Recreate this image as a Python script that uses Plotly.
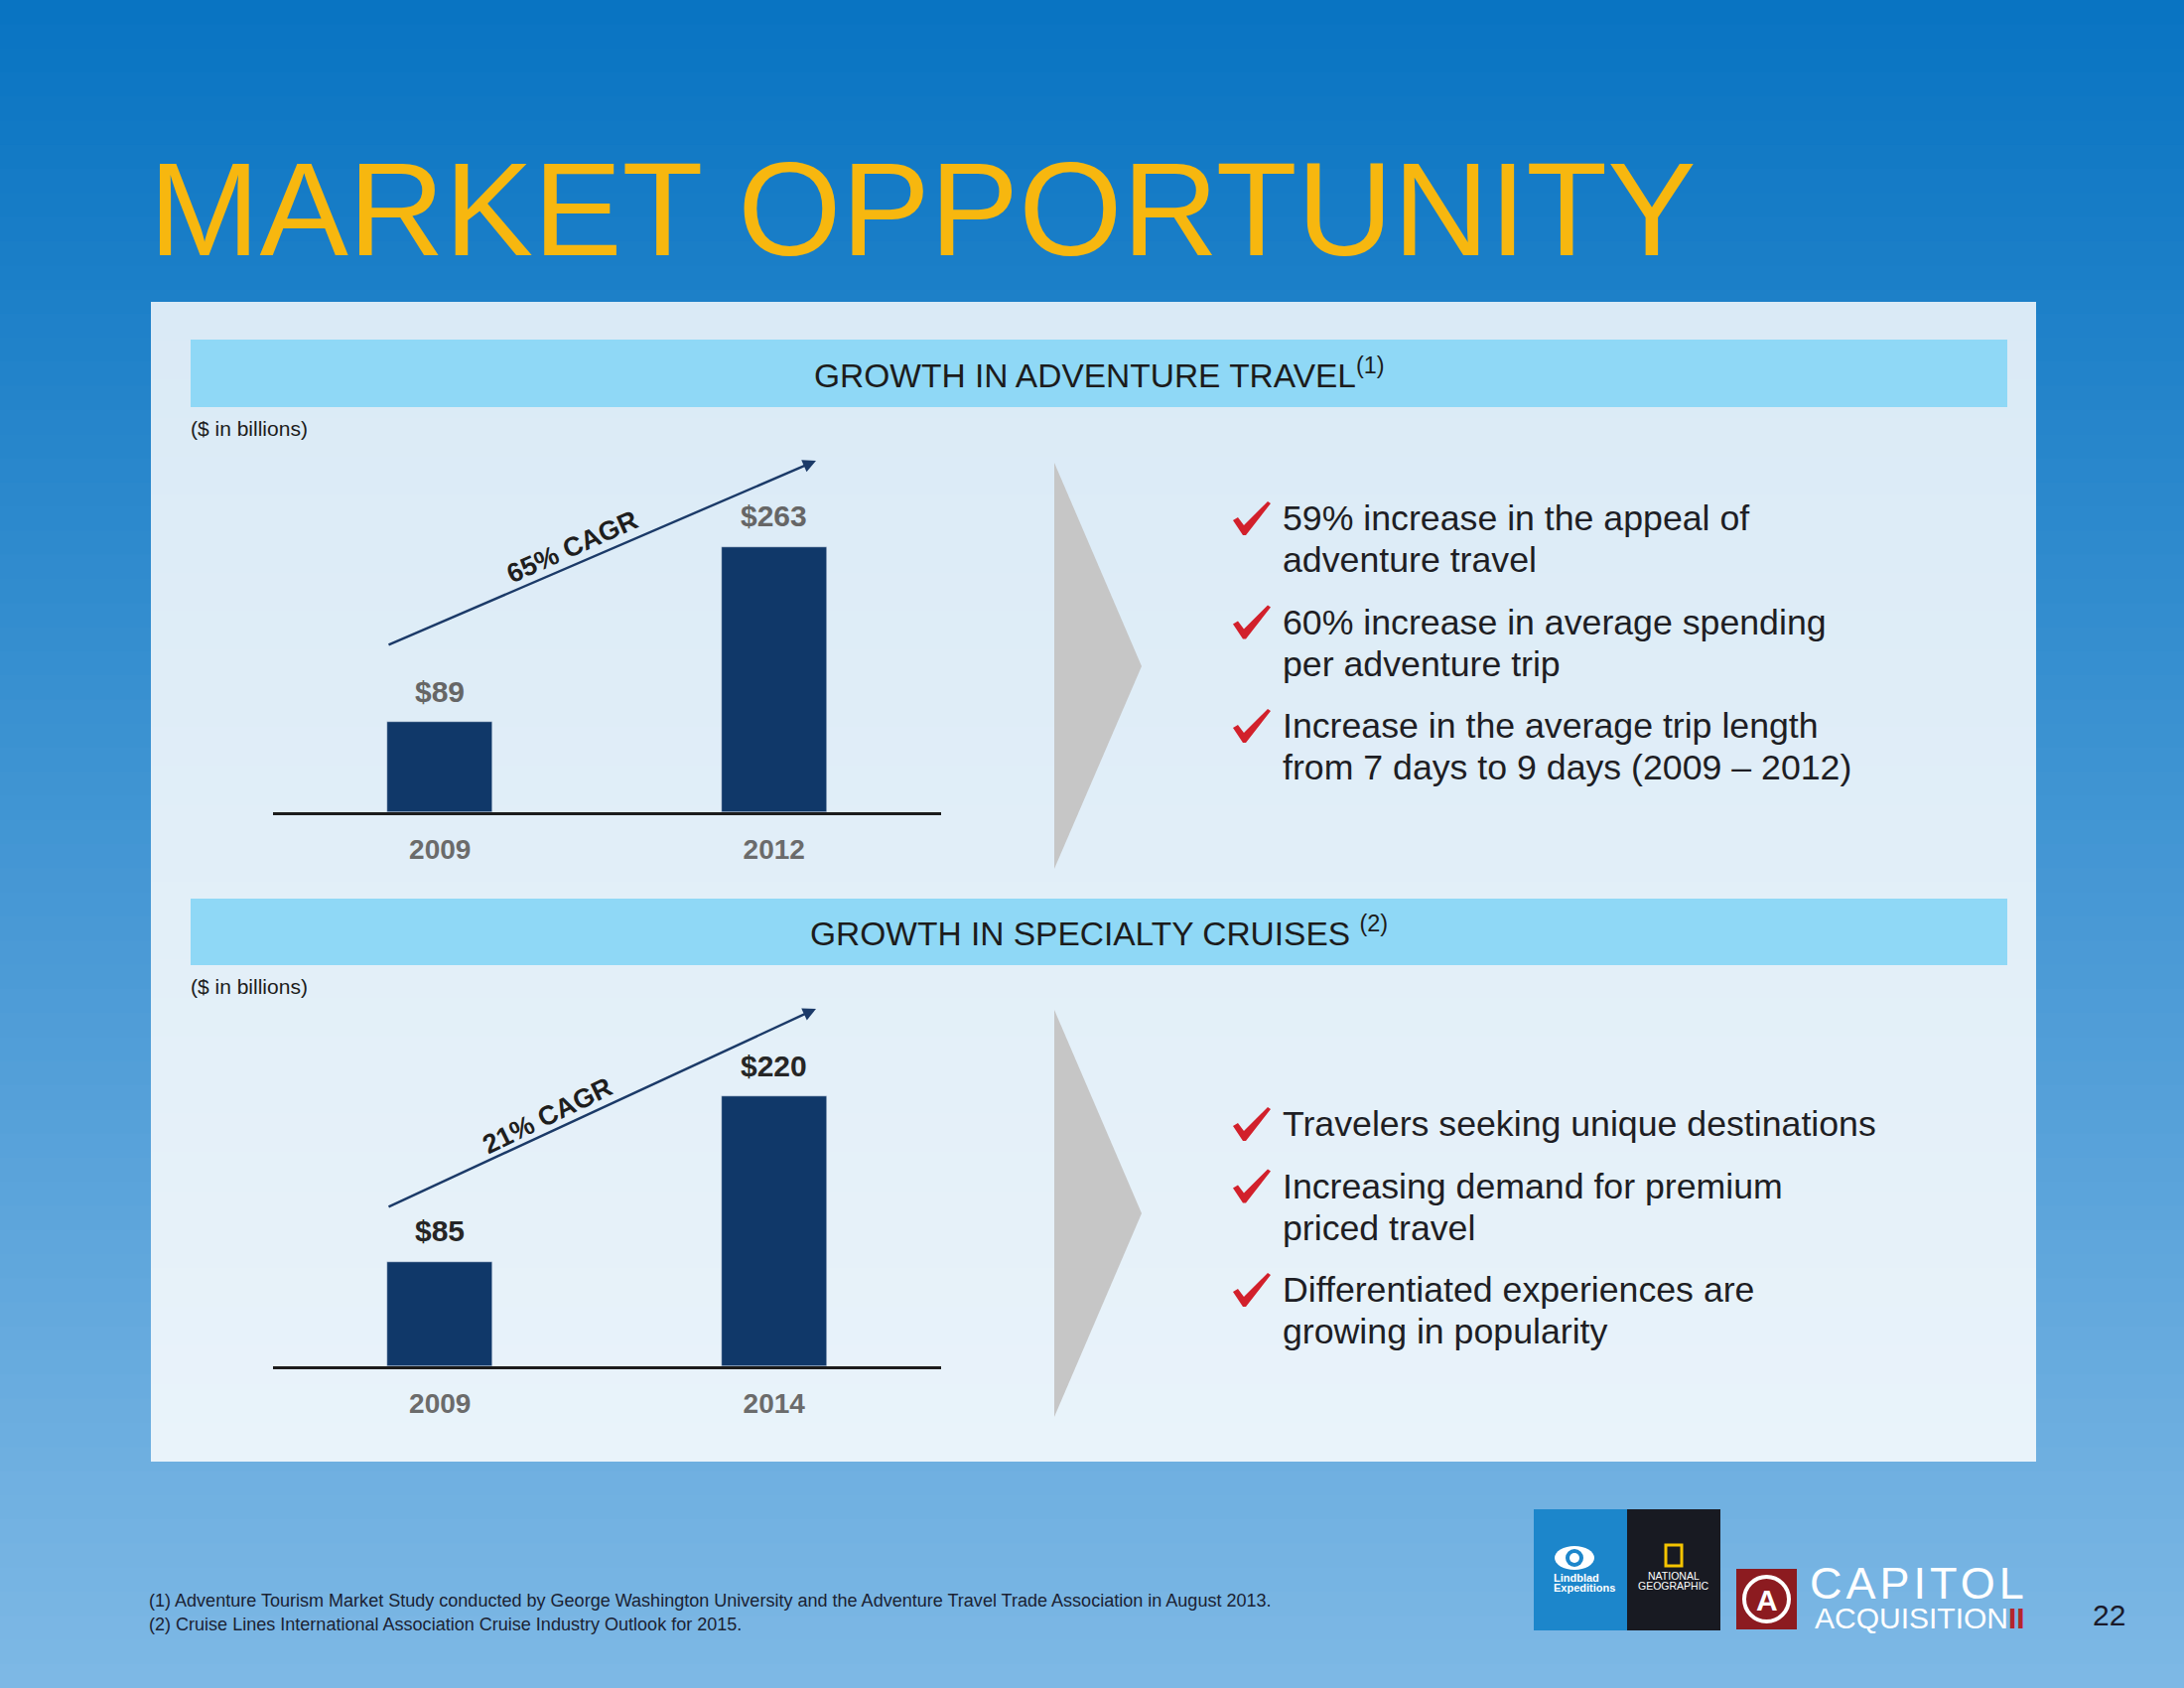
import plotly.graph_objects as go

# ---------------- data ----------------
title_text = "MARKET OPPORTUNITY"
unit_label = "($ in billions)"

adv_title = "GROWTH IN ADVENTURE TRAVEL<sup>(1)</sup>"
adv_years = ["2009", "2012"]
adv_values = [89, 263]
adv_cagr = "65% CAGR"
adv_bullets = [
    ["59% increase in the appeal of", "adventure travel"],
    ["60% increase in average spending", "per adventure trip"],
    ["Increase in the average trip length", "from 7 days to 9 days (2009 \u2013 2012)"],
]

cru_title = "GROWTH IN SPECIALTY CRUISES <sup>(2)</sup>"
cru_years = ["2009", "2014"]
cru_values = [85, 220]
cru_cagr = "21% CAGR"
cru_bullets = [
    ["Travelers seeking unique destinations"],
    ["Increasing demand for premium", "priced travel"],
    ["Differentiated experiences are", "growing in popularity"],
]

footnotes = [
    "(1) Adventure Tourism Market Study conducted by George Washington University and the Adventure Travel Trade Association in August 2013.",
    "(2) Cruise Lines International Association Cruise Industry Outlook for 2015.",
]
page_number = "22"

# ---------------- helpers ----------------
W, H = 2200, 1700


def px(x):
    return x / W


def py(y):
    return 1 - y / H


shapes = []
annotations = []


def rect(x0, y0, x1, y1, fill, layer="below"):
    shapes.append(dict(type="rect", xref="paper", yref="paper",
                       x0=px(x0), x1=px(x1), y0=py(y1), y1=py(y0),
                       fillcolor=fill, layer=layer, line=dict(width=0)))


def lerp(c0, c1, t):
    return "rgb(%d,%d,%d)" % tuple(round(a + (b - a) * t) for a, b in zip(c0, c1))


def vgrad(x0, y0, x1, y1, c0, c1, n):
    h = (y1 - y0) / n
    for i in range(n):
        t = (i + 0.5) / n
        rect(x0, y0 + i * h, x1, min(y1, y0 + (i + 1) * h + 1), lerp(c0, c1, t))


def path(points, fill, layer="above"):
    p = "M " + " L ".join("%f,%f" % (px(x), py(y)) for x, y in points) + " Z"
    shapes.append(dict(type="path", xref="paper", yref="paper", path=p,
                       fillcolor=fill, line=dict(width=0), layer=layer))


def text(x, y, s, size, color, xanchor="left", yanchor="middle",
         family="Liberation Sans", weight="normal", angle=0):
    annotations.append(dict(x=px(x), y=py(y), xref="paper", yref="paper",
                            text=s, showarrow=False, xanchor=xanchor,
                            yanchor=yanchor, textangle=angle,
                            font=dict(size=size, color=color, family=family,
                                      weight=weight)))


# ---------------- backgrounds ----------------
vgrad(0, 0, W, H, (8, 116, 194), (126, 184, 229), 70)
vgrad(152, 304, 2051, 1472, (218, 234, 246), (233, 243, 250), 30)

# title
text(148, 210, title_text, 134, "#f7b70f")

# header bands
BAND_COLOR = "#8fd8f6"
rect(192, 342, 2022, 410, BAND_COLOR)
rect(192, 905, 2022, 972, BAND_COLOR)
text(1107, 376, adv_title, 33.5, "#1c1c1c", xanchor="center")
text(1107, 938, cru_title, 33.5, "#1c1c1c", xanchor="center")

text(190, 431, unit_label, 21, "#1c1c1c")
text(190, 993, unit_label, 21, "#1c1c1c")

# chevrons
path([(1062, 466), (1150, 671), (1062, 875)], "#c6c6c6", layer="below")
path([(1062, 1017), (1150, 1222), (1062, 1427)], "#c6c6c6", layer="below")


# check marks + bullets
def checkmark(x0, cy):
    y0 = cy - 17
    pts = [(0, 19), (5, 16), (11, 24), (35, 0), (38, 2), (13, 34), (10, 34)]
    path([(x0 + a, y0 + b) for a, b in pts], "#d2202b")


def bullets(items, y_start):
    y = y_start
    for lines in items:
        checkmark(1242, y)
        for j, ln in enumerate(lines):
            text(1290, y, ln, 35.7, "#1e1e24")
            if j < len(lines) - 1:
                y += 42
        y += 62.5


bullets(adv_bullets, 522)
bullets(cru_bullets, 1132)

# ---------------- bar charts ----------------
BAR_COLOR = "#103869"
fig = go.Figure()
fig.add_trace(go.Bar(x=adv_years, y=adv_values, marker_color=BAR_COLOR,
                     width=0.315, xaxis="x", yaxis="y", hoverinfo="skip"))
fig.add_trace(go.Bar(x=cru_years, y=cru_values, marker_color=BAR_COLOR,
                     width=0.315, xaxis="x2", yaxis="y2", hoverinfo="skip"))

# value labels (x given as category index)
for xs, vs, xr, yr, col in [(adv_years, adv_values, "x", "y", "#666666"),
                            (cru_years, cru_values, "x2", "y2", "#262626")]:
    for i, v in enumerate(vs):
        annotations.append(dict(x=i, y=v, xref=xr, yref=yr, text="$%d" % v,
                                showarrow=False, yanchor="middle", yshift=31,
                                font=dict(size=30, color=col, weight="bold",
                                          family="Liberation Sans")))

# CAGR arrows
ARROW = "#1b3a68"
for tail, tip in [((390, 650), (822, 464)), ((390, 1216), (822, 1016))]:
    annotations.append(dict(x=px(tip[0]), y=py(tip[1]), xref="paper", yref="paper",
                            ax=tail[0] - tip[0], ay=tail[1] - tip[1],
                            showarrow=True, arrowhead=2, arrowsize=1.1,
                            arrowwidth=2.4, arrowcolor=ARROW, text=""))
text(576, 551, adv_cagr, 27, "#1e1e1e", xanchor="center", weight="bold", angle=-24)
text(551, 1124, cru_cagr, 27, "#1e1e1e", xanchor="center", weight="bold", angle=-26)

# ---------------- footer ----------------
text(148, 1612, footnotes[0], 18.05, "#1a2233")
text(148, 1636, footnotes[1], 18.05, "#1a2233")

# Lindblad box
rect(1545, 1520, 1639, 1642, "#1c86cb", layer="above")
shapes.append(dict(type="circle", xref="paper", yref="paper",
                   x0=px(1566), x1=px(1606), y0=py(1581), y1=py(1557),
                   fillcolor="white", line=dict(width=0), layer="above"))
shapes.append(dict(type="circle", xref="paper", yref="paper",
                   x0=px(1577), x1=px(1595), y0=py(1578), y1=py(1560),
                   fillcolor="#1c86cb", line=dict(width=0), layer="above"))
shapes.append(dict(type="circle", xref="paper", yref="paper",
                   x0=px(1581), x1=px(1591), y0=py(1574), y1=py(1564),
                   fillcolor="white", line=dict(width=0), layer="above"))
text(1563, 1589, "<b>Lindblad</b>", 11, "white")
text(1563, 1599, "<b>Expeditions</b>", 11, "white")

# National Geographic box
rect(1639, 1520, 1733, 1642, "#181a22", layer="above")
shapes.append(dict(type="rect", xref="paper", yref="paper",
                   x0=px(1678), x1=px(1694), y0=py(1577), y1=py(1556),
                   fillcolor="rgba(0,0,0,0)", line=dict(color="#f5c400", width=3),
                   layer="above"))
text(1686, 1587, "NATIONAL", 10.5, "white", xanchor="center")
text(1686, 1597, "GEOGRAPHIC", 10.5, "white", xanchor="center")

# Capitol logo
rect(1749, 1580, 1810, 1641, "#8c1b20", layer="above")
shapes.append(dict(type="circle", xref="paper", yref="paper",
                   x0=px(1757), x1=px(1802), y0=py(1633), y1=py(1588),
                   fillcolor="rgba(0,0,0,0)", line=dict(color="white", width=4),
                   layer="above"))
text(1780, 1611, "<b>A</b>", 30, "white", xanchor="center")
text(1821, 1594, "<span style='letter-spacing:4px'>CAPITOL</span>", 45, "white")
text(1826, 1629, "ACQUISITION<span style='color:#b5252c'><b>II</b></span>", 30, "white")
text(2124, 1626, page_number, 30, "#1a1a2a", xanchor="center")

# ---------------- layout ----------------
ax_common = dict(type="category", range=[-0.5, 1.5], showgrid=False,
                 zeroline=False, showline=True,
                 linecolor="#1c1c1c", linewidth=2.5, ticks="", automargin=False,
                 ticklabelstandoff=11, fixedrange=True,
                 tickfont=dict(size=28, color="#6b6b6b", weight="bold",
                               family="Liberation Sans"))
ay_common = dict(visible=False, showgrid=False, zeroline=False, fixedrange=True,
                 automargin=False)

fig.update_layout(
    width=W, height=H,
    margin=dict(l=0, r=0, t=0, b=0, pad=0, autoexpand=False),
    paper_bgcolor="#0874c2",
    plot_bgcolor="rgba(0,0,0,0)",
    showlegend=False,
    bargap=0,
    xaxis=dict(domain=[px(275), px(948)], anchor="y", **ax_common),
    yaxis=dict(domain=[py(818), py(466)], range=[0, (818 - 466) / 1.017],
               anchor="x", **ay_common),
    xaxis2=dict(domain=[px(275), px(948)], anchor="y2", **ax_common),
    yaxis2=dict(domain=[py(1376), py(1016)], range=[0, (1376 - 1016) / 1.236],
                anchor="x2", **ay_common),
    shapes=shapes,
    annotations=annotations,
)

fig.write_html("out.html", config=dict(displayModeBar=False),
               post_script="document.body.style.margin='0';"
                           "document.body.style.overflow='hidden';")
